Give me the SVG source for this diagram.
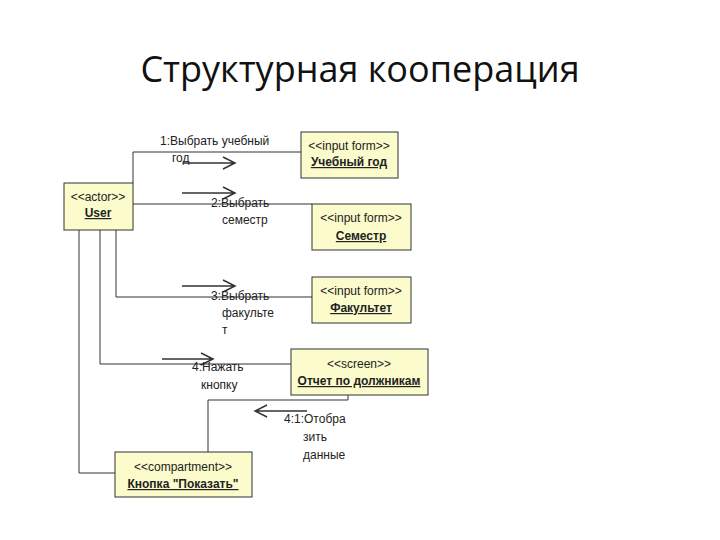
<svg xmlns="http://www.w3.org/2000/svg" width="720" height="540" viewBox="0 0 720 540">
<style>
.box{fill:#fbfbcc;stroke:#333;stroke-width:1}
.t{font-family:"Liberation Sans",Arial,sans-serif;font-size:12px;fill:#222}
.b{font-weight:bold;text-decoration:underline}
.c{fill:none;stroke:#333;stroke-width:1}
.a{fill:none;stroke:#333;stroke-width:1.5}
</style>
<rect width="720" height="540" fill="#fff"/>
<text x="360" y="82" text-anchor="middle" font-family="Open Sans,sans-serif" font-size="36" fill="#111">Структурная кооперация</text>
<g id="connectors">
<path class="c" d="M133 183V152H301"/>
<path class="c" d="M133 204H312"/>
<path class="c" d="M116 230V297H312"/>
<path class="c" d="M100 230V364H291"/>
<path class="c" d="M79 230V473H115"/>
<path class="c" d="M348 395V400H208V452"/>
<path class="a" d="M183 163H235M223 157L235 163L223 169"/>
<path class="a" d="M182 193H235M223 187L235 193L223 199"/>
<path class="a" d="M182 286H235M223 280L235 286L223 292"/>
<path class="a" d="M162 359H213M201 353L213 359L201 365"/>
<path class="a" d="M307 411H255M267 405L255 411L267 417"/>
<text class="t" x="160" y="145">1:Выбрать учебный</text>
<text class="t" x="172" y="162">год</text>
<text class="t" x="211" y="207">2:Выбрать</text>
<text class="t" x="222" y="224">семестр</text>
<text class="t" x="211" y="300">3:Выбрать</text>
<text class="t" x="222" y="317">факульте</text>
<text class="t" x="222" y="334">т</text>
<text class="t" x="192" y="371">4:Нажать</text>
<text class="t" x="201" y="389">кнопку</text>
<text class="t" x="284" y="423">4:1:Отобра</text>
<text class="t" x="303" y="441">зить</text>
<text class="t" x="303" y="459">данные</text>
</g>
<g id="user"><rect class="box" x="64" y="183" width="69" height="47"/><text class="t" x="98" y="201" text-anchor="middle">&lt;&lt;actor&gt;&gt;</text><text class="t b" x="98" y="217" text-anchor="middle">User</text></g>
<g id="year"><rect class="box" x="301" y="132" width="97" height="46"/><text class="t" x="349" y="150" text-anchor="middle">&lt;&lt;input form&gt;&gt;</text><text class="t b" x="349" y="166" text-anchor="middle">Учебный год</text></g>
<g id="sem"><rect class="box" x="312" y="204" width="99" height="46"/><text class="t" x="361" y="222" text-anchor="middle">&lt;&lt;input form&gt;&gt;</text><text class="t b" x="361" y="240" text-anchor="middle">Семестр</text></g>
<g id="fac"><rect class="box" x="312" y="277" width="99" height="46"/><text class="t" x="361" y="295" text-anchor="middle">&lt;&lt;input form&gt;&gt;</text><text class="t b" x="361" y="312" text-anchor="middle">Факультет</text></g>
<g id="screen"><rect class="box" x="291" y="349" width="137" height="46"/><text class="t" x="359" y="368" text-anchor="middle">&lt;&lt;screen&gt;&gt;</text><text class="t b" x="359" y="385" text-anchor="middle">Отчет по должникам</text></g>
<g id="button"><rect class="box" x="115" y="452" width="137" height="45"/><text class="t" x="183" y="471" text-anchor="middle">&lt;&lt;compartment&gt;&gt;</text><text class="t b" x="183" y="488" text-anchor="middle">Кнопка "Показать"</text></g>
</svg>
